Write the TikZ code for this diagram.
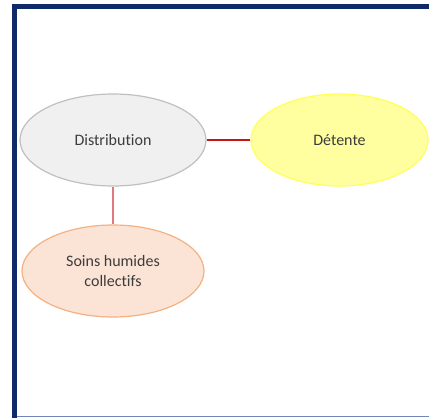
\documentclass[tikz,border=0pt]{standalone}
\usepackage{fontspec}
\setmainfont{Carlito}[Ligatures=CommonOff]
\usetikzlibrary{shapes.geometric}
\definecolor{navy}{RGB}{14,42,104}
\definecolor{navylight}{RGB}{110,135,180}
\definecolor{txt}{RGB}{60,60,60}
\definecolor{grayfill}{RGB}{240,240,240}
\definecolor{grayline}{RGB}{192,192,192}
\definecolor{yelfill}{RGB}{255,255,160}
\definecolor{yelline}{RGB}{255,255,90}
\definecolor{peachfill}{RGB}{251,228,214}
\definecolor{peachline}{RGB}{244,177,131}
\definecolor{redline}{RGB}{200,20,20}
\definecolor{pinkline}{RGB}{225,120,125}
\begin{document}
\begin{tikzpicture}[x=1pt,y=-1pt,
  bubble/.style={ellipse, inner sep=0pt, line width=1.2pt, align=center,
    text=txt, font=\fontsize{16}{20}\selectfont},
  link/.style={line width=1.5pt}]
\useasboundingbox (0,0) rectangle (429,418);
\fill[white] (0,0) rectangle (429,418);
% frame
\draw[navylight, line width=1.5pt] (14,416.5) -- (429,416.5);
\draw[navy, line width=5pt, line join=miter] (14.5,418) -- (14.5,6.5) -- (429,6.5);
% nodes
\node[bubble, draw=grayline, fill=grayfill, minimum width=186pt, minimum height=92pt] (dist) at (113,140) {Distribution};
\node[bubble, draw=yelline, fill=yelfill, minimum width=177pt, minimum height=92pt] (det) at (339.5,140) {Détente};
\node[bubble, draw=peachline, fill=peachfill, minimum width=182pt, minimum height=92pt] (soins) at (113,271) {Soins humides\\collectifs};
% connectors
\draw[link, redline] (dist.east) -- (det.west);
\draw[link, pinkline] (dist.south) -- (soins.north);
\end{tikzpicture}
\end{document}
